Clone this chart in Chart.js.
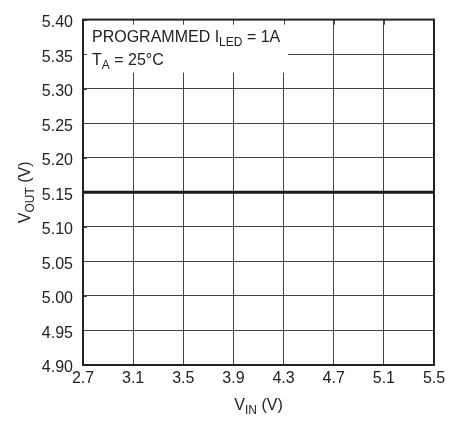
<!DOCTYPE html>
<html>
<head>
<meta charset="utf-8">
<script src="https://cdn.jsdelivr.net/npm/chart.js@4"></script>
<style>
  html, body { margin: 0; padding: 0; background: #fff; }
  #wrap { width: 466px; height: 423px; }
</style>
</head>
<body>
<div id="wrap"><canvas id="chart"></canvas></div>
<script>
// Axis ticks
const vinTicks = [2.7, 3.1, 3.5, 3.9, 4.3, 4.7, 5.1, 5.5];
const voutTicks = [4.90, 4.95, 5.00, 5.05, 5.10, 5.15, 5.20, 5.25, 5.30, 5.35, 5.40];

// Series: VOUT stays flat across VIN
const vinValues = [2.7, 5.5];
const voutValues = [5.15, 5.15];

const FONT = '"Liberation Sans", Arial, sans-serif';
const INK = '#222';

// draw text with a subscript piece, returns width
function drawSub(ctx, parts, x, y, size) {
    let cx = x;
    parts.forEach(p => {
        const s = p.sub ? Math.round(size * 0.75) : size;
        ctx.font = s + 'px ' + FONT;
        ctx.fillText(p.t, cx, y + (p.sub ? 4 : 0));
        cx += ctx.measureText(p.t).width;
    });
    return cx - x;
}

function measureSub(ctx, parts, size) {
    let w = 0;
    parts.forEach(p => {
        const s = p.sub ? Math.round(size * 0.75) : size;
        ctx.font = s + 'px ' + FONT;
        w += ctx.measureText(p.t).width;
    });
    return w;
}

const frame = {
    id: 'frame',
    beforeDatasetsDraw(chart) {
        const { ctx, chartArea: a, scales } = chart;
        // white note box over the grid
        ctx.save();
        ctx.fillStyle = '#fff';
        ctx.fillRect(a.left, a.top, 205, 53);
        // short inward ticks hidden under the box
        ctx.strokeStyle = '#444';
        ctx.lineWidth = 1;
        ctx.beginPath();
        vinTicks.forEach(v => {
            const px = Math.round(scales.x.getPixelForValue(v)) + 0.5;
            ctx.moveTo(px, a.top);
            ctx.lineTo(px, a.top + 5);
        });
        voutTicks.forEach(v => {
            const py = Math.round(scales.y.getPixelForValue(v)) + 0.5;
            ctx.moveTo(a.left, py);
            ctx.lineTo(a.left + 4, py);
        });
        ctx.stroke();

        ctx.fillStyle = INK;
        ctx.textBaseline = 'alphabetic';
        ctx.textAlign = 'left';
        drawSub(ctx, [{ t: 'PROGRAMMED I' }, { t: 'LED', sub: true }, { t: ' = 1A' }], a.left + 9, a.top + 22, 16);
        drawSub(ctx, [{ t: 'T' }, { t: 'A', sub: true }, { t: ' = 25°C' }], a.left + 9, a.top + 45, 16);
        ctx.restore();
    },
    afterDraw(chart) {
        const { ctx, chartArea: a } = chart;
        ctx.save();
        ctx.strokeStyle = INK;
        ctx.lineWidth = 2;
        ctx.strokeRect(a.left, a.top, a.right - a.left, a.bottom - a.top);

        // axis titles
        ctx.fillStyle = INK;
        ctx.textBaseline = 'alphabetic';
        ctx.textAlign = 'left';
        const xt = [{ t: 'V' }, { t: 'IN', sub: true }, { t: ' (V)' }];
        const xw = measureSub(ctx, xt, 16);
        drawSub(ctx, xt, (a.left + a.right) / 2 - xw / 2, 410, 16);

        const yt = [{ t: 'V' }, { t: 'OUT', sub: true }, { t: ' (V)' }];
        const yw = measureSub(ctx, yt, 16);
        ctx.translate(30, (a.top + a.bottom) / 2);
        ctx.rotate(-Math.PI / 2);
        drawSub(ctx, yt, -yw / 2, 0, 16);
        ctx.restore();
    }
};

const ctx = document.getElementById('chart').getContext('2d');
new Chart(ctx, {
    type: 'line',
    data: {
        datasets: [{
            data: vinValues.map((v, i) => ({ x: v, y: voutValues[i] })),
            borderColor: '#1a1a1a',
            borderWidth: 3,
            pointRadius: 0,
            fill: false,
            tension: 0
        }]
    },
    options: {
        responsive: true,
        maintainAspectRatio: false,
        animation: false,
        layout: { padding: { left: 0, top: 15, right: 32, bottom: 0 } },
        plugins: {
            legend: { display: false },
            tooltip: { enabled: false }
        },
        scales: {
            x: {
                type: 'linear',
                min: 2.7,
                max: 5.5,
                afterBuildTicks: s => { s.ticks = vinTicks.map(v => ({ value: v })); },
                afterFit: s => { s.height = 58; },
                grid: { color: '#444', lineWidth: 1, drawTicks: false },
                border: { display: false },
                ticks: {
                    color: INK,
                    padding: 4,
                    maxRotation: 0,
                    autoSkip: false,
                    font: { family: FONT, size: 16 },
                    callback: v => Number(v).toFixed(1)
                }
            },
            y: {
                min: 4.9,
                max: 5.4,
                afterBuildTicks: s => { s.ticks = voutTicks.map(v => ({ value: v })); },
                afterFit: s => { s.width = 83; },
                grid: { color: '#444', lineWidth: 1, drawTicks: false },
                border: { display: false },
                ticks: {
                    color: INK,
                    padding: 10,
                    labelOffset: 3,
                    autoSkip: false,
                    font: { family: FONT, size: 16 },
                    callback: v => Number(v).toFixed(2)
                }
            }
        }
    },
    plugins: [frame]
});
</script>
</body>
</html>
